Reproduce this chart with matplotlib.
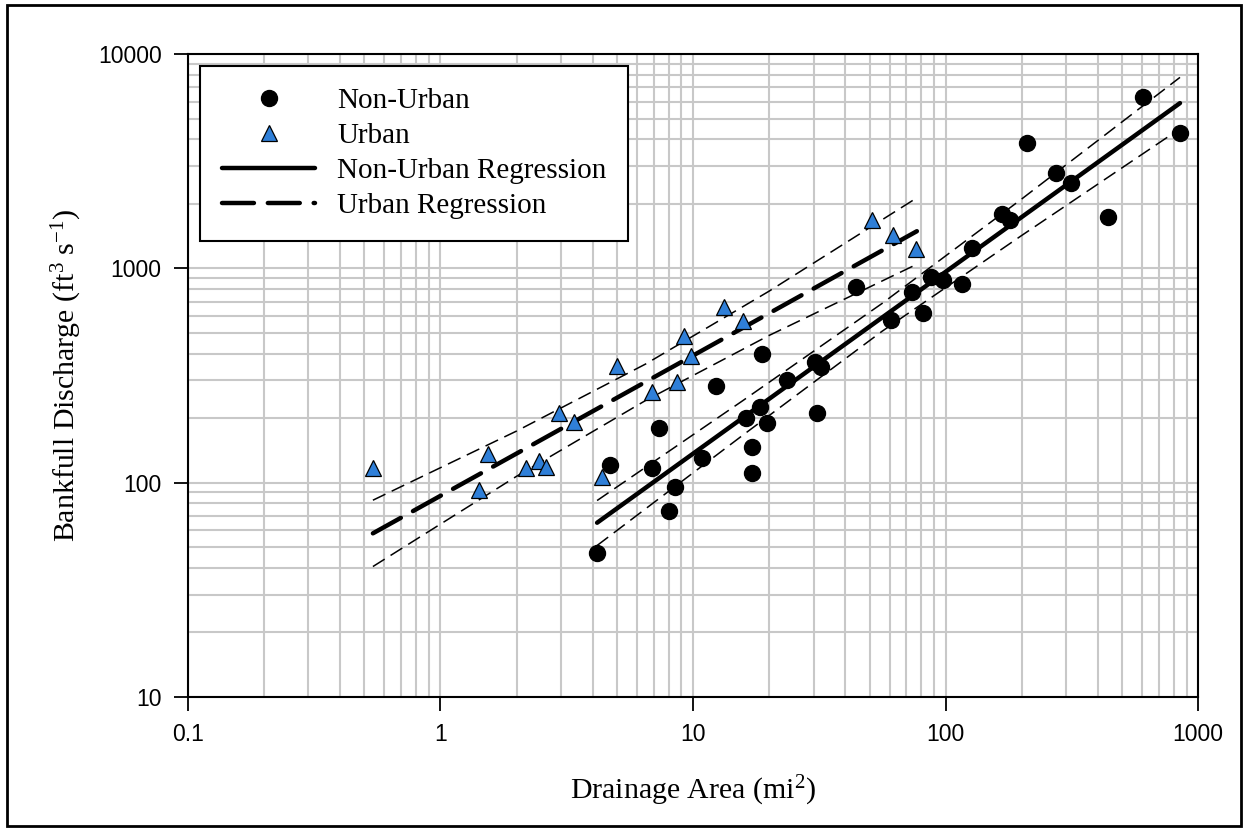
import matplotlib
matplotlib.use("Agg")
import matplotlib.pyplot as plt
from matplotlib.patches import Rectangle

# Non-urban sites (drainage area mi2, bankfull discharge cfs)
nonurban_area = [4.17, 4.69, 6.88, 7.33, 8.04, 8.49, 10.85, 12.3, 16.2, 17.1, 17.1, 19.6,
                 18.4, 18.8, 23.6, 31.0, 30.4, 32.1, 44.2, 60.8, 73.7, 81.5, 87.6, 97.7,
                 116, 127, 167, 180, 210, 274, 314, 440, 606, 848]
nonurban_q = [47, 121, 117, 180, 74, 95, 130, 282, 200, 147, 111, 190,
              225, 398, 301, 211, 365, 346, 818, 574, 775, 619, 911, 882,
              845, 1244, 1790, 1680, 3840, 2780, 2500, 1735, 6300, 4280]

# Urban sites
urban_area = [0.54, 1.42, 1.54, 2.18, 2.45, 2.62, 2.95, 3.38, 4.36, 5.0,
              6.88, 8.64, 9.21, 9.82, 13.3, 15.8, 51.2, 62.0, 76.4]
urban_q = [117, 92, 136, 117, 126, 118, 211, 192, 106, 350,
           265, 295, 483, 390, 660, 568, 1680, 1430, 1230]

# Regression lines
nu_reg_x = [4.17, 848]
nu_reg_y = [65, 5900]
u_reg_x = [0.54, 77]
u_reg_y = [58, 1490]

# Confidence bands
nu_band_x = [4.17, 15.8, 56, 200, 848]
nu_band_hi = [82.5, 242, 685, 2104, 7780]
nu_band_lo = [50.9, 167, 508, 1422, 4480]
u_band_x = [0.54, 2.0, 6.5, 20, 77]
u_band_hi = [82.8, 174, 358, 782, 2133]
u_band_lo = [40.6, 107, 242, 486, 1045]

plt.rcParams['lines.scale_dashes'] = False
plt.rcParams['mathtext.fontset'] = 'custom'
plt.rcParams['mathtext.rm'] = 'Liberation Serif'
plt.rcParams['mathtext.it'] = 'Liberation Serif:italic'

fig = plt.figure(figsize=(12.48, 8.32), dpi=100)
ax = fig.add_axes([0.1506, 0.1623, 0.8094, 0.7728])

ax.set_xscale('log')
ax.set_yscale('log')
ax.set_xlim(0.1, 1000)
ax.set_ylim(10, 10000)

ax.grid(True, which='both', color='#c8c8c8', linewidth=1.5)
ax.set_axisbelow(True)

# bands
for bx, by in [(nu_band_x, nu_band_hi), (nu_band_x, nu_band_lo),
               (u_band_x, u_band_hi), (u_band_x, u_band_lo)]:
    ax.plot(bx, by, color='black', linewidth=1.1, dashes=(10, 5), zorder=3)

ax.plot(nu_reg_x, nu_reg_y, color='black', linewidth=3.2, solid_capstyle='round',
        label='Non-Urban Regression', zorder=4)
ax.plot(u_reg_x, u_reg_y, color='black', linewidth=3.2, dashes=(23, 10),
        dash_capstyle='round', label='Urban Regression', zorder=4)

ax.plot(nonurban_area, nonurban_q, 'o', color='black', markersize=11.5,
        linestyle='none', label='Non-Urban', zorder=5)
ax.plot(urban_area, urban_q, '^', markerfacecolor='#2f7fd8', markeredgecolor='black',
        markeredgewidth=0.9, markersize=11, linestyle='none', label='Urban', zorder=5)

ax.set_xticks([0.1, 1, 10, 100, 1000])
ax.set_xticklabels(['0.1', '1', '10', '100', '1000'])
ax.set_yticks([10, 100, 1000, 10000])
ax.set_yticklabels(['10', '100', '1000', '10000'])
ax.tick_params(which='major', direction='out', length=10, width=1.3, top=False, right=False,
               labelsize=16.5, pad=9)
ax.tick_params(which='minor', length=0)
for lab in ax.get_xticklabels() + ax.get_yticklabels():
    lab.set_fontfamily('Liberation Sans')

for s in ax.spines.values():
    s.set_linewidth(1.5)

ax.set_xlabel('Drainage Area (mi$^2$)', fontfamily='Liberation Serif', fontsize=21.5, labelpad=20)
ax.set_ylabel('Bankfull Discharge (ft$^3$ s$^{-1}$)', fontfamily='Liberation Serif',
              fontsize=21.5, labelpad=10)

handles, labels = ax.get_legend_handles_labels()
order = [2, 3, 0, 1]
leg = ax.legend([handles[i] for i in order], [labels[i] for i in order],
                loc='upper left', bbox_to_anchor=(0.0119, 0.9813),
                prop={'family': 'Liberation Serif', 'size': 21},
                frameon=True, fancybox=False, edgecolor='black', framealpha=1,
                handlelength=3.2, handletextpad=0.75, borderpad=0.75, labelspacing=0.29,
                borderaxespad=0)
leg.get_frame().set_linewidth(1.5)

fig.patches.append(Rectangle((0.006, 0.007), 0.988, 0.987, transform=fig.transFigure,
                             fill=False, edgecolor='black', linewidth=2))

fig.savefig('out.png', dpi=100)
